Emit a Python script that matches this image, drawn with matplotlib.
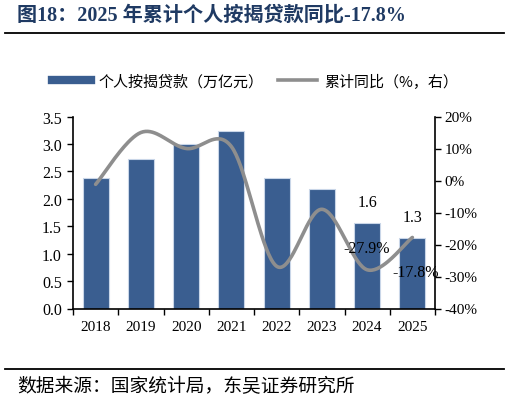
import numpy as np
import matplotlib
matplotlib.use("Agg")
import matplotlib.pyplot as plt
from matplotlib.lines import Line2D

years = ["2018", "2019", "2020", "2021", "2022", "2023", "2024", "2025"]
loans = [2.37, 2.72, 3.00, 3.23, 2.38, 2.17, 1.56, 1.29]
yoy = [-1.2, 15.0, 10.0, 10.6, -26.8, -9.0, -27.9, -17.8]
left_ticks = [0.0, 0.5, 1.0, 1.5, 2.0, 2.5, 3.0, 3.5]
right_ticks = [-40, -30, -20, -10, 0, 10, 20]

BAR = "#3A5E90"
GREY = "#8E8E8E"
NAVY = "#1F3A63"
NUM = ["Liberation Serif", "Noto Sans CJK SC"]
CJK = ["Noto Sans CJK SC", "DejaVu Sans"]

def catmull(xs, ys, n=40):
    xs = np.asarray(xs, float); ys = np.asarray(ys, float)
    px = np.concatenate([[xs[0]], xs, [xs[-1]]])
    py = np.concatenate([[ys[0]], ys, [ys[-1]]])
    ox, oy = [], []
    for i in range(1, len(px) - 2):
        p0, p1, p2, p3 = (np.array([px[j], py[j]]) for j in (i - 1, i, i + 1, i + 2))
        c1 = p1 + (p2 - p0) / 6.0
        c2 = p2 - (p3 - p1) / 6.0
        t = np.linspace(0, 1, n)[:, None]
        b = (1 - t) ** 3 * p1 + 3 * (1 - t) ** 2 * t * c1 + 3 * (1 - t) * t ** 2 * c2 + t ** 3 * p2
        ox.extend(b[:, 0]); oy.extend(b[:, 1])
    return np.array(ox), np.array(oy)

fig = plt.figure(figsize=(5.10, 4.02), dpi=100)
ax = fig.add_axes([73 / 510, 1 - 309.5 / 402, (435 - 73) / 510, (309.5 - 117.5) / 402])
x = np.arange(len(years))
ax.bar(x, loans, width=0.58, color=BAR, edgecolor="#C9D6E8", linewidth=0.8, zorder=2)
ax.set_xlim(-0.5, len(years) - 0.5)
ax.set_ylim(0, 3.5)
ax.set_yticks(left_ticks)
ax.set_yticklabels([f"{v:.1f}" for v in left_ticks], family=NUM, fontsize=11.5)
ax.set_xticks(x)
ax.set_xticklabels(years, family=NUM, fontsize=11)
ax.set_xticks(np.arange(-0.5, len(years)), minor=True)
ax.tick_params(axis="x", which="major", length=0, pad=8)
ax.tick_params(axis="x", which="minor", length=4, width=1, direction="out")
ax.tick_params(axis="y", length=4, width=1, direction="out", pad=4)
for s in ["top", "right"]:
    ax.spines[s].set_visible(False)
for s in ["left", "bottom"]:
    ax.spines[s].set_linewidth(1.2)

ax2 = ax.twinx()
sx, sy = catmull(x, yoy)
ax2.plot(sx, sy, color=GREY, lw=2.6, solid_capstyle="round", zorder=3)
ax2.set_ylim(-40, 20)
ax2.set_yticks(right_ticks)
ax2.set_yticklabels([f"{v}%" for v in right_ticks], family=NUM, fontsize=11)
ax2.tick_params(axis="y", length=4, width=1, direction="out", pad=3)
for s in ["top", "left", "bottom"]:
    ax2.spines[s].set_visible(False)
ax2.spines["right"].set_linewidth(1.2)

# data labels
for i in (6, 7):
    ax.annotate(f"{loans[i]:.1f}", (x[i], loans[i]), xytext=(0, 9), textcoords="offset points",
                ha="center", va="bottom", family=NUM, fontsize=11.5)
ax2.annotate(f"{yoy[6]}%", (x[6], yoy[6]), xytext=(0, 16), textcoords="offset points",
             ha="center", va="center", family=NUM, fontsize=11.5)
ax2.annotate(f"{yoy[7]}%", (x[7], yoy[7]), xytext=(2, -25), textcoords="offset points",
             ha="center", va="center", family=NUM, fontsize=11.5)

# title and rules
fig.text(17 / 510, 1 - 16 / 402, "图18：2025 年累计个人按揭贷款同比-17.8%", family=NUM,
         fontweight="bold", fontsize=14.5, color=NAVY, ha="left", va="center")
fig.add_artist(Line2D([5 / 510, 504 / 510], [1 - 34 / 402] * 2, color="black", lw=1.3))
fig.add_artist(Line2D([5 / 510, 504 / 510], [1 - 369.5 / 402] * 2, color="black", lw=1.3))
fig.text(17 / 510, 1 - 387 / 402, "数据来源：国家统计局，东吴证券研究所", family=CJK,
         fontsize=13.5, color="black", ha="left", va="center")

handles = [Line2D([], [], color=BAR, lw=6), Line2D([], [], color=GREY, lw=2.6)]
fig.legend(handles, ["个人按揭贷款（万亿元）", "累计同比（%，右）"], loc="center",
           bbox_to_anchor=(0.5, 1 - 82 / 402), ncol=2, frameon=False, prop={"family": CJK, "size": 10.8},
           handlelength=2.6, columnspacing=1.0, handletextpad=0.45)

fig.savefig("out.png", dpi=100)
